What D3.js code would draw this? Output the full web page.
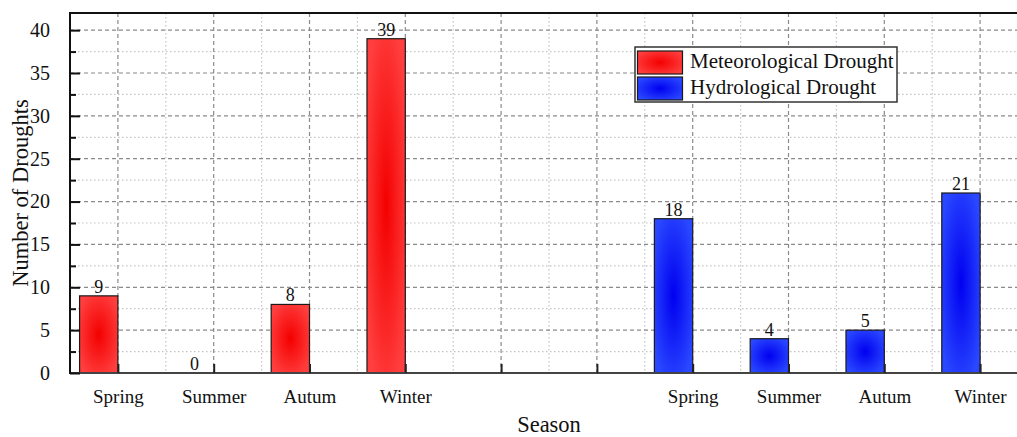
<!DOCTYPE html>
<html>
<head>
<meta charset="utf-8">
<script src="https://cdn.jsdelivr.net/npm/d3@7/dist/d3.min.js"></script>
<style>
  html, body { margin: 0; padding: 0; background: #fff; }
  svg { display: block; font-family: "Liberation Serif", "Times New Roman", serif; }
</style>
</head>
<body>
<svg id="chart" width="1017" height="437"></svg>
<script>
// Seasonal drought counts
const seasons = ["Spring", "Summer", "Autum", "Winter"];
const meteorological = [9, 0, 8, 39];
const hydrological = [18, 4, 5, 21];
// Slot labels along the x axis (two empty slots separate the groups)
const tickLabels = ["Spring", "Summer", "Autum", "Winter", "", "", "Spring", "Summer", "Autum", "Winter"];
const meteoSlots = [0, 1, 2, 3];
const hydroSlots = [6, 7, 8, 9];
const yMajorTicks = [0, 5, 10, 15, 20, 25, 30, 35, 40];
const yMinorTicks = [2.5, 7.5, 12.5, 17.5, 22.5, 27.5, 32.5, 37.5];
const legendLabels = ["Meteorological Drought", "Hydrological Drought"];

const svg = d3.select("#chart");
const W = 1017, H = 437;
const plotLeft = 70, plotTop = 13, plotBottom = 373;
const barW = 0.4; // bar width in slot units

const x = d3.scaleLinear().domain([-0.3, 9.7]).range([plotLeft, 1028]);
const y = d3.scaleLinear().domain([0, 42]).range([plotBottom, plotTop]);

// Gradients: saturated centre, lighter rim
const defs = svg.append("defs");
function grad(id, centre, rim) {
  const g = defs.append("radialGradient").attr("id", id)
    .attr("cx", 0.5).attr("cy", 0.5).attr("r", 0.6);
  g.append("stop").attr("offset", "0%").attr("stop-color", centre);
  g.append("stop").attr("offset", "100%").attr("stop-color", rim);
}
grad("gRed", "#f40000", "#ff3f3f");
grad("gBlue", "#0000f0", "#2a48ff");

const clip = defs.append("clipPath").attr("id", "plotClip");
clip.append("rect").attr("x", plotLeft).attr("y", plotTop)
  .attr("width", W - plotLeft).attr("height", plotBottom - plotTop);

// Grid
const grid = svg.append("g").attr("clip-path", "url(#plotClip)");
const xMajor = d3.range(tickLabels.length).map(i => i + barW / 2);
const xMinor = d3.range(tickLabels.length).map(i => i + 0.5 + barW / 2);

grid.selectAll(".ymin").data(yMinorTicks).join("line")
  .attr("x1", plotLeft).attr("x2", W)
  .attr("y1", d => y(d)).attr("y2", d => y(d))
  .attr("stroke", "#c4c4c4").attr("stroke-width", 1.2).attr("stroke-dasharray", "1.5,2.5");
grid.selectAll(".xmin").data(xMinor).join("line")
  .attr("x1", d => x(d)).attr("x2", d => x(d))
  .attr("y1", plotTop).attr("y2", plotBottom)
  .attr("stroke", "#c4c4c4").attr("stroke-width", 1.2).attr("stroke-dasharray", "1.5,2.5");
grid.selectAll(".ymaj").data(yMajorTicks.filter(d => d > 0)).join("line")
  .attr("x1", plotLeft).attr("x2", W)
  .attr("y1", d => y(d)).attr("y2", d => y(d))
  .attr("stroke", "#8a8a8a").attr("stroke-width", 1.2).attr("stroke-dasharray", "4,3");
grid.selectAll(".xmaj").data(xMajor).join("line")
  .attr("x1", d => x(d)).attr("x2", d => x(d))
  .attr("y1", plotTop).attr("y2", plotBottom)
  .attr("stroke", "#8a8a8a").attr("stroke-width", 1.2).attr("stroke-dasharray", "4,3");

// Bars
function drawBars(values, slots, fill) {
  const data = values.map((v, i) => ({ v, slot: slots[i] }));
  svg.append("g").selectAll("rect").data(data.filter(d => d.v > 0)).join("rect")
    .attr("x", d => x(d.slot - barW / 2))
    .attr("width", d => x(d.slot + barW / 2) - x(d.slot - barW / 2))
    .attr("y", d => y(d.v))
    .attr("height", d => y(0) - y(d.v))
    .attr("fill", fill)
    .attr("stroke", "#1a1a1a").attr("stroke-width", 1.2);
  svg.append("g").selectAll("text").data(data).join("text")
    .attr("x", d => x(d.slot))
    .attr("y", d => y(d.v) - 3)
    .attr("text-anchor", "middle")
    .attr("font-size", 18)
    .attr("fill", "#111")
    .text(d => d.v);
}
drawBars(meteorological, meteoSlots, "url(#gRed)");
drawBars(hydrological, hydroSlots, "url(#gBlue)");

// Frame lines
svg.append("line").attr("x1", plotLeft).attr("x2", W).attr("y1", plotTop).attr("y2", plotTop)
  .attr("stroke", "#111").attr("stroke-width", 2);
svg.append("line").attr("x1", plotLeft).attr("x2", W).attr("y1", plotBottom).attr("y2", plotBottom)
  .attr("stroke", "#444").attr("stroke-width", 2);
svg.append("line").attr("x1", plotLeft).attr("x2", plotLeft).attr("y1", plotTop - 1).attr("y2", plotBottom + 1)
  .attr("stroke", "#111").attr("stroke-width", 2);

// Y axis: inward ticks, labels on the left
const yAxis = d3.axisLeft(y).tickValues(yMajorTicks).tickSize(-10).tickPadding(20);
const gy = svg.append("g").attr("transform", `translate(${plotLeft},0)`).call(yAxis);
gy.select(".domain").remove();
gy.selectAll(".tick line").attr("stroke", "#111").attr("stroke-width", 2);
gy.selectAll(".tick text").attr("font-size", 20).attr("fill", "#111")
  .attr("font-family", "Liberation Serif, Times New Roman, serif");
const gyMinor = svg.append("g").attr("transform", `translate(${plotLeft},0)`)
  .call(d3.axisLeft(y).tickValues(yMinorTicks).tickSize(-6).tickFormat(""));
gyMinor.select(".domain").remove();
gyMinor.selectAll(".tick line").attr("stroke", "#111").attr("stroke-width", 2);

// X axis: inward ticks, labels below
const xAxis = d3.axisBottom(x).tickValues(xMajor).tickSize(-9).tickPadding(17)
  .tickFormat((d, i) => tickLabels[i]);
const gx = svg.append("g").attr("transform", `translate(0,${plotBottom})`).call(xAxis);
gx.select(".domain").remove();
gx.selectAll(".tick line").attr("stroke", "#222").attr("stroke-width", 2);
gx.selectAll(".tick text").attr("font-size", 19).attr("fill", "#111")
  .attr("font-family", "Liberation Serif, Times New Roman, serif");

// Axis titles
svg.append("text").attr("x", 549).attr("y", 432).attr("text-anchor", "middle")
  .attr("font-size", 22.5).attr("fill", "#111").text("Season");
svg.append("text").attr("transform", "translate(28,193) rotate(-90)")
  .attr("text-anchor", "middle").attr("font-size", 22.5).attr("fill", "#111")
  .text("Number of Droughts");

// Legend
const lg = svg.append("g");
lg.append("rect").attr("x", 635).attr("y", 47).attr("width", 262).attr("height", 55)
  .attr("fill", "#fff").attr("stroke", "#333").attr("stroke-width", 1.5);
const fills = ["url(#gRed)", "url(#gBlue)"];
legendLabels.forEach((lab, i) => {
  lg.append("rect").attr("x", 637.5).attr("y", 51 + i * 26).attr("width", 45).attr("height", 23)
    .attr("fill", fills[i]).attr("stroke", "#1a1a1a").attr("stroke-width", 1.2);
  lg.append("text").attr("x", 690).attr("y", 68 + i * 26)
    .attr("font-size", 21).attr("fill", "#111").text(lab);
});
</script>
</body>
</html>
